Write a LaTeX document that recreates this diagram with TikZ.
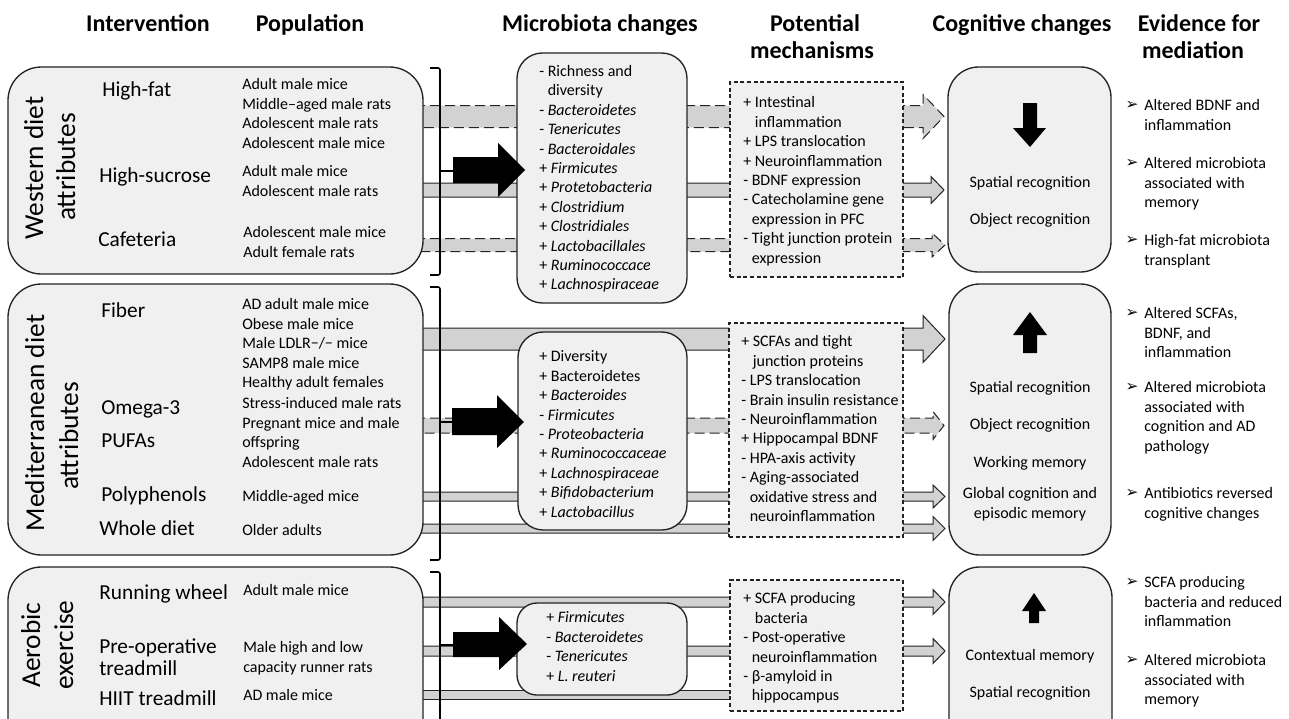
\documentclass[tikz,border=0pt]{standalone}
\usepackage{fontspec}
\setmainfont{Carlito}
\newfontfamily\dejavu{DejaVu Sans}
\usetikzlibrary{fit}
\definecolor{boxfill}{RGB}{240,240,240}
\definecolor{barfill}{RGB}{210,210,210}
\definecolor{edge}{RGB}{35,35,35}
% #1 style, #2 y centre, #3 bar thickness, #4 head base x, #5 head height, #6 tip x
\newcommand{\gbar}[6][sbar]{%
  \draw[#1] (415,{#2-#3/2}) -- (#4,{#2-#3/2}) -- (#4,{#2-#5/2}) -- (#6,#2)
    -- (#4,{#2+#5/2}) -- (#4,{#2+#3/2}) -- (415,{#2+#3/2});}
\begin{document}
\begin{tikzpicture}[x=0.75pt,y=-0.75pt,
  bodyf/.style={font=\fontsize{12}{14.55}\selectfont},
  txt/.style={bodyf,inner sep=0pt,anchor=north west,align=left},
  cogt/.style={bodyf,inner sep=0pt,anchor=base},
  hdr/.style={font=\fontsize{18}{20}\selectfont\bfseries,inner sep=0pt,anchor=base},
  ivt/.style={font=\fontsize{16}{19}\selectfont,inner sep=0pt,anchor=base west},
  grpt/.style={font=\fontsize{20.5}{24}\selectfont,inner sep=0pt,anchor=base,rotate=90},
  bul/.style={font=\dejavu\fontsize{11.5}{14}\selectfont,inner sep=0pt,anchor=center},
  rbox/.style={draw=edge,fill=boxfill,line width=1pt,inner sep=0pt},
  mbox/.style={draw=edge,fill=boxfill,line width=0.8pt,dash pattern=on 3pt off 2pt,inner sep=0pt},
  sbar/.style={draw=edge,fill=barfill,line width=0.75pt},
  dbar/.style={sbar,dash pattern=on 7.5pt off 3.75pt},
  brk/.style={draw=black,line width=1.2pt,rounded corners=1.5pt},
  blk/.style={fill=black}]
\useasboundingbox (0,0) rectangle (1289,718);
\clip (0,0) rectangle (1289,718);

% ---------- headers ----------
\node[hdr] (h1) at (148,31) {Intervention};
\node[hdr] (h2) at (310,31) {Population};
\node[hdr] (h3) at (600,31) {Microbiota changes};
\node[hdr] (h4a) at (815,31) {Potential};
\node[hdr] (h4b) at (812,58) {mechanisms};
\node[hdr] (h5) at (1022,31) {Cognitive changes};
\node[hdr] (h6a) at (1199,31) {Evidence for};
\node[hdr] (h6b) at (1193,58) {mediation};

% ---------- bars (behind boxes) ----------
\gbar[dbar]{116.5}{22}{923}{44}{944}
\gbar{190}{14}{931}{27}{944}
\gbar[dbar]{245}{13}{932}{24}{945}
\gbar{339}{22}{923}{47}{945}
\gbar[dbar]{425.5}{15}{933}{28}{944}
\gbar{496.5}{9}{933}{23}{945}
\gbar{528.5}{9}{933}{24}{945}
\gbar{602}{10}{933}{25}{945}
\gbar{651}{10}{933}{25}{945}
\fill[barfill] (415,690) rectangle (850,699);
\draw[edge,line width=0.75pt] (415,690) -- (850,690) (415,699) -- (850,699);

% ---------- boxes ----------
\node[rbox,rounded corners=25pt,fit={(8,67) (423,274)}] (wgrp) {};
\node[rbox,rounded corners=25pt,fit={(8,284) (423,555)}] (mgrp) {};
\node[rbox,rounded corners=25pt,fit={(8,567) (423,760)}] (agrp) {};
\node[rbox,rounded corners=19pt,fit={(517,53) (687,303)}] (wmic) {};
\node[rbox,rounded corners=19pt,fit={(518,332) (687,530)}] (mmic) {};
\node[rbox,rounded corners=15pt,fit={(517,603) (687,695)}] (amic) {};
\node[mbox,fit={(730,82) (903,277)}] (wmec) {};
\node[mbox,fit={(729,323) (903,537)}] (mmec) {};
\node[mbox,fit={(730,580) (903,711)}] (amec) {};
\node[rbox,rounded corners=23pt,fit={(948,67) (1111,272)}] (wcog) {};
\node[rbox,rounded corners=23pt,fit={(949,284) (1111,555)}] (mcog) {};
\node[rbox,rounded corners=23pt,fit={(949,567) (1112,760)}] (acog) {};

% ---------- brackets ----------
\draw[brk] (430,68) -- (440,68) -- (440,275) -- (430,275);
\draw[brk] (440,171) -- (455,171);
\draw[brk] (430,287) -- (440,287) -- (440,560) -- (430,560);
\draw[brk] (440,422) -- (455,422);
\draw[brk] (430,572) -- (440,572) -- (440,740);
\draw[brk] (440,645) -- (455,645);

% ---------- black block arrows ----------
\fill[blk] (453,157) -- (498,157) -- (498,143) -- (525,170) -- (498,197) -- (498,183) -- (453,183) -- cycle;
\fill[blk] (452,408) -- (497,408) -- (497,395) -- (524,422) -- (497,448) -- (497,435) -- (452,435) -- cycle;
\fill[blk] (453,632) -- (499,632) -- (499,617) -- (527,644) -- (499,670) -- (499,657) -- (453,657) -- cycle;

% ---------- cognitive arrows ----------
\fill[blk] (1023,103) -- (1037,103) -- (1037,128) -- (1046,128) -- (1030,147) -- (1013,128) -- (1023,128) -- cycle;
\fill[blk] (1023,353) -- (1037,353) -- (1037,335) -- (1047,335) -- (1030,312) -- (1013,335) -- (1023,335) -- cycle;
\fill[blk] (1029,623) -- (1039,623) -- (1039,611) -- (1046,611) -- (1034,593) -- (1022,611) -- (1029,611) -- cycle;

% ---------- group labels ----------
\node[grpt] (wl1) at (43,168) {Western diet};
\node[grpt] (wl2) at (75,167) {attributes};
\node[grpt] (ml1) at (44,423) {Mediterranean diet};
\node[grpt] (ml2) at (78,436) {attributes};
\node[grpt] (al1) at (40,645) {Aerobic};
\node[grpt] (al2) at (73,645) {exercise};

% ---------- interventions ----------
\node[ivt] (i1) at (102,96) {High-fat};
\node[ivt] (i2) at (99,182) {High-sucrose};
\node[ivt] (i3) at (98,246) {Cafeteria};
\node[ivt] (i4) at (101,317) {Fiber};
\node[ivt] (i5a) at (101,414) {Omega-3};
\node[ivt] (i5b) at (101,447) {PUFAs};
\node[ivt] (i6) at (101,501) {Polyphenols};
\node[ivt] (i7) at (99,535) {Whole diet};
\node[ivt] (i8) at (99,599) {Running wheel};
\node[ivt] (i9a) at (99,653) {Pre-operative};
\node[ivt] (i9b) at (99,675) {treadmill};
\node[ivt] (i10) at (99,705) {HIIT treadmill};

% ---------- populations ----------
\node[txt] (p1) at (242,76) {\strut Adult male mice\\Middle–aged male rats\\Adolescent male rats\\Adolescent male mice};
\node[txt] (p2) at (242,163) {\strut Adult male mice\\Adolescent male rats};
\node[txt] (p3) at (243,224) {\strut Adolescent male mice\\Adult female rats};
\node[txt] (p4) at (242,296) {\strut AD adult male mice\\Obese male mice\\Male LDLR−/− mice\\SAMP8 male mice\\Healthy adult females};
\node[txt] (p5) at (242,395) {\strut Stress-induced male rats\\Pregnant mice and male\\offspring\\Adolescent male rats};
\node[txt] (p6) at (242,488) {\strut Middle-aged mice};
\node[txt] (p7) at (242,522) {\strut Older adults};
\node[txt] (p8) at (243,582) {\strut Adult male mice};
\node[txt] (p9) at (243,639) {\strut Male high and low\\capacity runner rats};
\node[txt] (p10) at (243,687) {\strut AD male mice};

% ---------- microbiota changes ----------
\node[txt] (mt1) at (539,62.6) {\strut - Richness and\\\phantom{- }diversity\\- \textit{Bacteroidetes}\\- \textit{Tenericutes}\\- \textit{Bacteroidales}\\+ \textit{Firmicutes}\\+ \textit{Protetobacteria}\\+ \textit{Clostridium}\\+ \textit{Clostridiales}\\+ \textit{Lactobacillales}\\+ \textit{Ruminococcace}\\+ \textit{Lachnospiraceae}};
\node[txt] (mt2) at (539,348) {\strut + Diversity\\+ Bacteroidetes\\+ \textit{Bacteroides}\\- \textit{Firmicutes}\\- \textit{Proteobacteria}\\+ \textit{Ruminococcaceae}\\+ \textit{Lachnospiraceae}\\+ \textit{Bifidobacterium}\\+ \textit{Lactobacillus}};
\node[txt] (mt3) at (546,609) {\strut + \textit{Firmicutes}\\- \textit{Bacteroidetes}\\- \textit{Tenericutes}\\+ \textit{L. reuteri}};

% ---------- mechanisms ----------
\node[txt] (me1) at (743,94) {\strut + Intestinal\\\phantom{+ }inflammation\\+ LPS translocation\\+ Neuroinflammation\\- BDNF expression\\- Catecholamine gene\\\phantom{- }expression in PFC\\- Tight junction protein\\\phantom{- }expression};
\node[txt] (me2) at (741,333) {\strut + SCFAs and tight\\\phantom{+ }junction proteins\\- LPS translocation\\- Brain insulin resistance\\- Neuroinflammation\\+ Hippocampal BDNF\\- HPA-axis activity\\- Aging-associated\\\phantom{- }oxidative stress and\\\phantom{- }neuroinflammation};
\node[txt] (me3) at (743,590) {\strut + SCFA producing\\\phantom{+ }bacteria\\- Post-operative\\\phantom{- }neuroinflammation\\- β-amyloid in\\\phantom{- }hippocampus};

% ---------- cognitive changes ----------
\node[cogt] (c1) at (1030,187.5) {Spatial recognition};
\node[cogt] (c2) at (1030,224.5) {Object recognition};
\node[cogt] (c3) at (1030,392.5) {Spatial recognition};
\node[cogt] (c4) at (1030,429.5) {Object recognition};
\node[cogt] (c5) at (1030,467.5) {Working memory};
\node[cogt] (c6) at (1030,498.5) {Global cognition and};
\node[cogt] (c7) at (1030,518.5) {episodic memory};
\node[cogt] (c8) at (1030,660.5) {Contextual memory};
\node[cogt] (c9) at (1030,697.5) {Spatial recognition};

% ---------- evidence ----------
\node[bul] (b1) at (1132,105) {➢};
\node[txt] (e1) at (1144,97) {\strut Altered BDNF and\\inflammation};
\node[bul] (b2) at (1132,163) {➢};
\node[txt] (e2) at (1144,155) {\strut Altered microbiota\\associated with\\memory};
\node[bul] (b3) at (1132,240) {➢};
\node[txt] (e3) at (1144,232) {\strut High-fat microbiota\\transplant};
\node[bul] (b4) at (1132,313) {➢};
\node[txt] (e4) at (1144,305) {\strut Altered SCFAs,\\BDNF, and\\inflammation};
\node[bul] (b5) at (1132,387) {➢};
\node[txt] (e5) at (1144,379) {\strut Altered microbiota\\associated with\\cognition and AD\\pathology};
\node[bul] (b6) at (1132,493) {➢};
\node[txt] (e6) at (1144,485) {\strut Antibiotics reversed\\cognitive changes};
\node[bul] (b7) at (1132,582) {➢};
\node[txt] (e7) at (1144,574) {\strut SCFA producing\\bacteria and reduced\\inflammation};
\node[bul] (b8) at (1132,660) {➢};
\node[txt] (e8) at (1144,652) {\strut Altered microbiota\\associated with\\memory};
\end{tikzpicture}
\end{document}
